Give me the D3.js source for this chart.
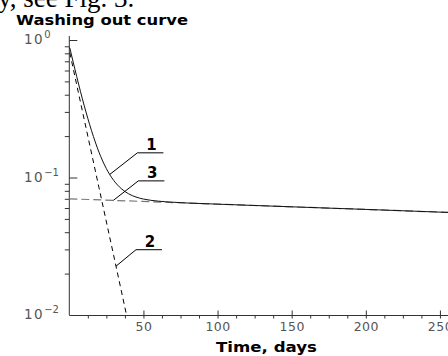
<!DOCTYPE html>
<html>
<head>
<meta charset="utf-8">
<script src="https://cdn.jsdelivr.net/npm/d3@7"></script>
<style>
  body { margin: 0; background: #fff; }
  svg { display: block; }
</style>
</head>
<body>
<div id="chart"></div>
<script>
// values
const days1 = [0.3, 5, 10, 15, 20, 25, 30, 35, 40, 45, 50, 60, 70, 80, 100, 150, 200, 256];
const total = [0.880, 0.542, 0.335, 0.219, 0.153, 0.116, 0.0951, 0.0831, 0.0761, 0.0721, 0.0697, 0.0673, 0.0661, 0.0652, 0.0640, 0.0612, 0.0586, 0.0557];
const days2 = [0.3, 10, 20, 30, 38.6];
const fast = [0.81, 0.266, 0.0846, 0.0269, 0.01];
const days3 = [0, 100, 200, 256];
const slow = [0.070, 0.0640, 0.0586, 0.0557];

const xMajor = [50, 100, 150, 200, 250];
const xMinor = [12.5, 25, 37.5, 62.5, 75, 87.5, 112.5, 125, 137.5, 162.5, 175, 187.5, 212.5, 225, 237.5];
const yMajor = [1, 0.1, 0.01];
const yExp = ["0", "\u22121", "\u22122"];

// label anchors: curve, day on the curve, text
const labels = [
  { name: "1", day: 27.4, dx: 27.5, dy: -21.5 },
  { name: "3", day: 29.7, dx: 25, dy: -19.5 },
  { name: "2", day: 31.5, dx: 20, dy: -16.5 }
];

const width = 448, height = 356;
const svg = d3.select("#chart").append("svg")
  .attr("width", width).attr("height", height);

const x = d3.scaleLinear().domain([0, 256]).range([69.3, 69.3 + 256 * 1.4825]);
const y = d3.scaleLog().domain([0.01, 1]).range([315, 40]);

// caption remnant at the very top
svg.append("text")
  .attr("x", -2).attr("y", 7)
  .style("font-family", "Liberation Serif, serif")
  .style("font-size", "27px")
  .text("y, see Fig. 3.");

svg.append("text")
  .attr("x", 16).attr("y", 25)
  .attr("textLength", 172).attr("lengthAdjust", "spacingAndGlyphs")
  .style("font-family", "DejaVu Sans, sans-serif")
  .style("font-weight", "bold")
  .style("font-size", "14px")
  .text("Washing out curve");

const axisCol = "#333";
const labCol = "#555";

// x axis
const gx = svg.append("g").attr("transform", "translate(0,315)");
gx.call(d3.axisBottom(x).tickValues(xMajor).tickSize(3.5).tickSizeOuter(0).tickFormat(d3.format("d")));
gx.call(g => g.select(".domain").attr("stroke", axisCol));
gx.selectAll(".tick line").attr("y1", -4.5).attr("stroke", axisCol);
gx.selectAll(".tick text")
  .attr("y", 15.5).attr("dy", null)
  .attr("letter-spacing", "0.5px")
  .style("font-family", "DejaVu Sans, sans-serif").style("font-size", "12.5px")
  .attr("fill", labCol);
svg.append("g").attr("transform", "translate(0,315)")
  .call(d3.axisBottom(x).tickValues(xMinor).tickSize(3.5).tickFormat(""))
  .call(g => g.select(".domain").remove())
  .selectAll(".tick line").attr("stroke", axisCol);

// y axis
const gy = svg.append("g").attr("transform", "translate(69.3,0)");
gy.call(d3.axisLeft(y).tickValues(yMajor).tickSize(9).tickSizeOuter(0).tickFormat(""));
gy.select(".domain").attr("d", `M0,36V315`).attr("stroke", axisCol);
gy.selectAll(".tick line").attr("x2", 8).attr("stroke", axisCol);
const yMinor = [];
[0.01, 0.1].forEach(b => { for (let k = 2; k <= 9; k++) yMinor.push(b * k); });
svg.append("g").attr("transform", "translate(69.3,0)")
  .call(d3.axisLeft(y).tickValues(yMinor).tickSize(4.5).tickFormat(""))
  .call(g => g.select(".domain").remove())
  .selectAll(".tick line").attr("stroke", axisCol);

const yl = svg.append("g").selectAll("text").data(yMajor).join("text")
  .attr("x", 24).attr("y", d => y(d) + 4)
  .style("font-family", "DejaVu Sans, sans-serif")
  .attr("fill", labCol);
yl.append("tspan").style("font-size", "13.5px").attr("letter-spacing", "1.5px").text("10");
yl.append("tspan").style("font-size", "10px").attr("dy", -6).text((d, i) => yExp[i]);

svg.append("text")
  .attr("x", 216).attr("y", 351.5)
  .attr("textLength", 101).attr("lengthAdjust", "spacingAndGlyphs")
  .style("font-family", "DejaVu Sans, sans-serif")
  .style("font-weight", "bold")
  .style("font-size", "14px")
  .text("Time, days");

// curves
svg.append("clipPath").attr("id", "plot")
  .append("rect").attr("x", 69.3).attr("y", 36).attr("width", 400).attr("height", 279);

const line = d3.line().x(d => x(d[0])).y(d => y(d[1]));
const smooth = d3.line().x(d => x(d[0])).y(d => y(d[1])).curve(d3.curveMonotoneX);

svg.append("path")
  .attr("d", line(d3.zip(days3, slow)))
  .attr("fill", "none").attr("stroke", "#777").attr("stroke-width", 1.2)
  .attr("stroke-dasharray", "8,4");

svg.append("path")
  .attr("clip-path", "url(#plot)")
  .attr("d", line(d3.zip(days2, fast)))
  .attr("fill", "none").attr("stroke", "#000").attr("stroke-width", 1)
  .attr("stroke-dasharray", "5,4");

svg.append("path")
  .attr("d", smooth(d3.zip(days1, total)))
  .attr("fill", "none").attr("stroke", "#111").attr("stroke-width", 1);

// labels with leaders
const series = {
  "1": d3.zip(days1, total),
  "2": d3.zip(days2, fast),
  "3": d3.zip(days3, slow)
};
function valueAt(pts, t) {
  // log-linear lookup along the drawn points
  const i = Math.max(1, d3.bisector(d => d[0]).left(pts, t));
  const a = pts[i - 1], b = pts[i];
  const f = (t - a[0]) / (b[0] - a[0]);
  return Math.exp(Math.log(a[1]) + f * (Math.log(b[1]) - Math.log(a[1])));
}
labels.forEach(l => {
  const px = x(l.day), py = y(valueAt(series[l.name], l.day));
  const ex = px + l.dx, ey = py + l.dy;
  svg.append("path")
    .attr("d", `M${px},${py}L${ex},${ey}H${ex + 26}`)
    .attr("fill", "none").attr("stroke", "#000").attr("stroke-width", 1);
  svg.append("text")
    .attr("x", ex + 14).attr("y", ey - 3)
    .attr("text-anchor", "middle")
    .style("font-family", "DejaVu Sans, sans-serif")
    .style("font-weight", "bold")
    .style("font-size", "15px")
    .text(l.name);
});
</script>
</body>
</html>
